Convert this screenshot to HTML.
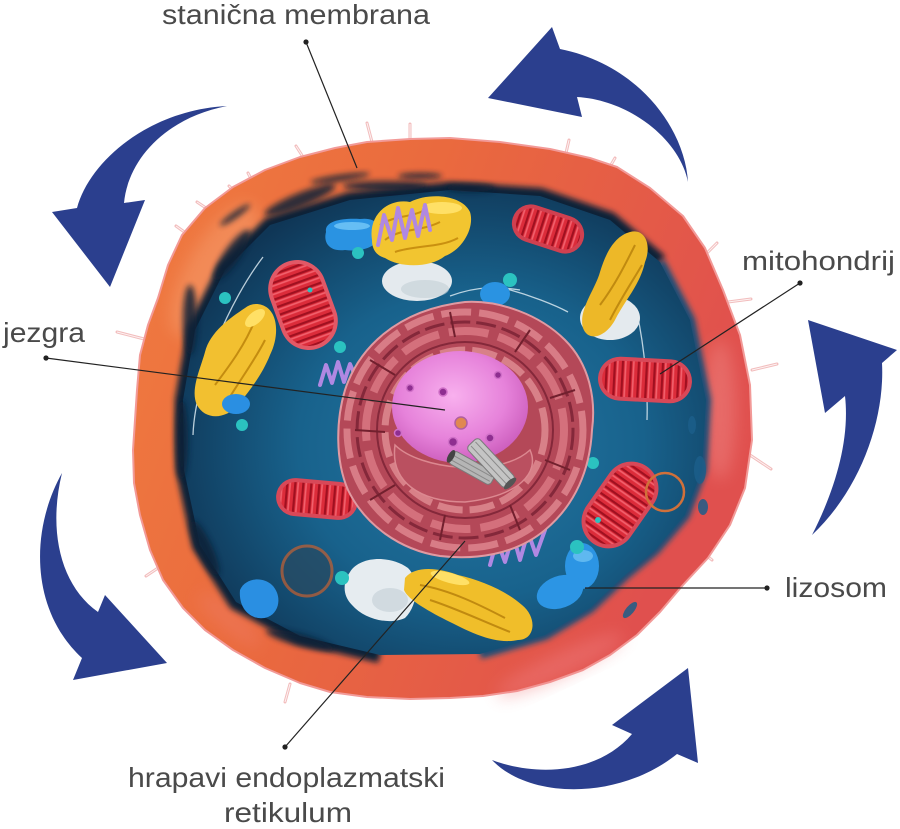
<!DOCTYPE html>
<html><head><meta charset="utf-8"><style>
html,body{margin:0;padding:0;background:#fff;}
svg{display:block;}
text{font-family:"Liberation Sans",sans-serif;fill:#4a4a4a;}
</style></head><body>
<svg width="900" height="829" viewBox="0 0 900 829" xmlns="http://www.w3.org/2000/svg">
<defs>
 <linearGradient id="memG" x1="0" y1="0" x2="1" y2="0.35">
   <stop offset="0" stop-color="#F07C40"/>
   <stop offset="0.45" stop-color="#EA6A3E"/>
   <stop offset="1" stop-color="#E0504E"/>
 </linearGradient>
 <radialGradient id="cytG" cx="0.55" cy="0.55" r="0.6">
   <stop offset="0" stop-color="#2578A4"/>
   <stop offset="0.55" stop-color="#18628C"/>
   <stop offset="1" stop-color="#0F3656"/>
 </radialGradient>
 <radialGradient id="nucG" cx="0.45" cy="0.4" r="0.65">
   <stop offset="0" stop-color="#F8B0EE"/>
   <stop offset="0.6" stop-color="#E682DA"/>
   <stop offset="1" stop-color="#C858B8"/>
 </radialGradient>
 <pattern id="sH" width="10" height="8" patternUnits="userSpaceOnUse"><rect width="10" height="8" fill="#DC2C3A"/><rect y="0" width="10" height="2.2" fill="#A01020"/><rect y="3.2" width="10" height="1.6" fill="#F2626E"/></pattern>
 <pattern id="sV" width="8" height="10" patternUnits="userSpaceOnUse"><rect width="8" height="10" fill="#DC2C3A"/><rect x="0" width="2.2" height="10" fill="#A01020"/><rect x="3.2" width="1.6" height="10" fill="#F2626E"/></pattern>
 <filter id="b3" x="-50%" y="-50%" width="200%" height="200%"><feGaussianBlur stdDeviation="3"/></filter>
 <filter id="b8" x="-50%" y="-50%" width="200%" height="200%"><feGaussianBlur stdDeviation="8"/></filter>
</defs>

<!-- arrows -->
<g fill="#2B3F8E">
 <path d="M227,106 C150,110 90,160 77,208 L52,212 L110,287 L145,200 L124,203 C128,160 165,118 227,106 Z"/>
 <path d="M552,27 L560,49 C640,65 685,130 688,182 C680,140 630,100 577,97 L582,117 L488,98 Z"/>
 <path d="M812,535 C835,490 850,440 845,396 L825,413 L808,320 L897,350 L882,363 C885,420 860,490 812,535 Z"/>
 <path d="M62,473 C30,530 30,610 82,658 L73,680 L167,663 L105,595 L98,612 C60,585 48,530 62,473 Z"/>
 <path d="M492,760 C540,778 600,772 632,734 L612,725 L688,668 L698,763 L677,754 C620,800 530,800 492,760 Z"/>
</g>

<!-- microvilli -->
<g stroke="#F2BDBD" stroke-width="3" stroke-linecap="round" fill="none">
 <path d="M190,236 L176,226 M212,212 L197,202 M240,196 L229,186 M256,188 L248,173 M305,160 L296,146 M372,142 L367,123 M410,140 L410,124 M566,153 L569,140 M608,170 L615,158 M705,255 L717,243 M728,302 L751,299 M752,370 L777,364 M750,455 L771,469 M700,550 L712,560 M158,568 L146,576 M290,684 L285,702 M148,340 L117,332"/>
</g>
<g stroke="#fff" stroke-width="1" fill="none" opacity="0.8">
 <path d="M190,236 L176,226 M212,212 L197,202 M240,196 L229,186 M256,188 L248,173 M305,160 L296,146 M372,142 L367,123 M410,140 L410,124 M566,153 L569,140 M608,170 L615,158 M705,255 L717,243 M728,302 L751,299 M752,370 L777,364 M750,455 L771,469 M700,550 L712,560 M158,568 L146,576 M290,684 L285,702 M148,340 L117,332"/>
</g>

<!-- membrane -->
<path d="M450,138 L500,142 L550,149 L590,158 L617,167 L650,188 L683,216 L705,248 L723,290 L740,335 L750,385 L752,440 L745,488 L730,525 L708,558 L683,585 L660,612 L637,635 L610,655 L583,670 L550,682 L517,691 L483,696 L450,698 L410,699 L367,697 L330,692 L300,683 L265,668 L233,650 L205,630 L183,608 L163,580 L150,550 L140,515 L134,483 L133,450 L135,420 L137,390 L140,355 L148,325 L158,298 L168,265 L182,235 L205,208 L233,187 L265,170 L300,157 L335,148 L367,142 L410,139 Z" fill="url(#memG)" stroke="#F29A98" stroke-width="2" stroke-linejoin="round"/>
<!-- membrane highlights -->
<ellipse cx="215" cy="270" rx="28" ry="75" transform="rotate(30 215 270)" fill="#F7A474" opacity="0.45" filter="url(#b8)"/>
<ellipse cx="720" cy="410" rx="16" ry="70" fill="#F08A88" opacity="0.45" filter="url(#b8)"/>
<ellipse cx="560" cy="665" rx="70" ry="12" transform="rotate(-25 560 665)" fill="#F07E80" opacity="0.45" filter="url(#b8)"/>
<ellipse cx="230" cy="620" rx="40" ry="10" transform="rotate(40 230 620)" fill="#F08070" opacity="0.4" filter="url(#b8)"/>

<!-- cytoplasm dark rim (top/left only) -->
<path d="M660,262 L610,220 L540,196 L450,190 L350,200 L270,225 L225,270 L195,330 L183,400 L184,470 L200,545 L236,602 L300,636 L380,655" fill="none" stroke="#0B2238" stroke-width="16" stroke-linejoin="round" filter="url(#b3)"/>
<path d="M660,262 L690,320 L706,400 L702,470 L685,515 L655,550 L625,575 L590,608 L545,635 L480,654" fill="none" stroke="#154E78" stroke-width="10" stroke-linejoin="round" filter="url(#b3)"/>
<path d="M450,190 L540,196 L610,220 L660,262 L690,320 L706,400 L702,470 L685,515 L655,550 L625,575 L590,608 L545,635 L480,654 L380,655 L300,636 L236,602 L200,545 L184,470 L183,400 L195,330 L225,270 L270,225 L350,200 Z" fill="url(#cytG)" stroke-linejoin="round"/>
<!-- dark rim patches -->
<g fill="#0C2238" opacity="0.85" filter="url(#b3)">
 <ellipse cx="300" cy="200" rx="38" ry="7" transform="rotate(-22 300 200)"/>
 <ellipse cx="385" cy="186" rx="42" ry="5"/>
 <ellipse cx="470" cy="188" rx="25" ry="4"/>
 <ellipse cx="232" cy="255" rx="8" ry="30" transform="rotate(35 232 255)"/>
 <ellipse cx="190" cy="320" rx="7" ry="35"/>
 <ellipse cx="182" cy="440" rx="6" ry="40"/>
 <ellipse cx="205" cy="548" rx="7" ry="30" transform="rotate(-25 205 548)"/>
 <ellipse cx="300" cy="640" rx="35" ry="6" transform="rotate(15 300 640)"/>
 <ellipse cx="340" cy="178" rx="30" ry="3" transform="rotate(-8 340 178)"/>
 <ellipse cx="420" cy="176" rx="22" ry="3"/>
 <ellipse cx="235" cy="215" rx="18" ry="3" transform="rotate(-35 235 215)"/>
</g>
<g fill="#1C5E8A" opacity="0.85">
 <ellipse cx="700" cy="470" rx="6" ry="14"/>
 <ellipse cx="703" cy="507" rx="5" ry="8"/>
 <ellipse cx="692" cy="425" rx="4" ry="9"/>
 <ellipse cx="630" cy="610" rx="4" ry="10" transform="rotate(40 630 610)"/>
</g>

<!-- thin white microtubules -->
<g stroke="#D8E8F0" stroke-width="1.3" fill="none" opacity="0.85">
 <path d="M263,257 C230,300 195,380 193,435"/>
 <path d="M503,288 C530,295 555,305 568,312"/>
 <path d="M637,313 C645,350 648,390 647,420"/>
 <path d="M450,296 C480,285 500,287 520,290"/>
</g>

<!-- white vesicles -->
<ellipse cx="417" cy="281" rx="35" ry="20" fill="#E4EAEE"/>
<ellipse cx="425" cy="289" rx="24" ry="9" fill="#C3CED6" opacity="0.6"/>
<ellipse cx="610" cy="318" rx="30" ry="22" fill="#E4EAEE"/>
<path d="M350,572 C360,556 390,555 408,568 C420,580 418,605 405,618 C390,625 365,620 352,605 C342,595 343,582 350,572 Z" fill="#E6ECF0"/>
<ellipse cx="390" cy="600" rx="18" ry="12" fill="#C3CED6" opacity="0.6"/>

<!-- lysosomes (blue) -->
<path d="M326,232 C324,220 345,218 360,219 C375,217 382,225 379,236 C377,248 360,252 345,250 C330,252 323,243 326,232 Z" fill="#2A93E2"/>
<ellipse cx="352" cy="226" rx="18" ry="4" fill="#66BEF4"/>
<ellipse cx="495" cy="294" rx="15" ry="12" fill="#2A93E2"/>
<path d="M240,590 C245,578 262,576 272,585 C282,595 280,612 268,617 C255,622 238,612 240,590 Z" fill="#2A8FE2"/>
<ellipse cx="582" cy="566" rx="17" ry="23" fill="#2C95E4"/>
<ellipse cx="560" cy="592" rx="24" ry="16" transform="rotate(-20 560 592)" fill="#2C95E4"/>
<ellipse cx="583" cy="556" rx="10" ry="6" fill="#5FB8F0"/>

<!-- mitochondria -->
<g transform="translate(303,305) rotate(-20)"><rect x="-29" y="-46" width="58" height="92" rx="29" fill="#E25866"/><rect x="-25" y="-42" width="50" height="84" rx="25" fill="url(#sH)"/></g>
<g transform="translate(548,229) rotate(18)"><rect x="-37" y="-19" width="74" height="38" rx="19" fill="#D04050"/><rect x="-33" y="-15" width="66" height="30" rx="15" fill="url(#sV)"/></g>
<g transform="translate(645,380) rotate(3)"><rect x="-47" y="-22" width="94" height="44" rx="22" fill="#D84858"/><rect x="-43" y="-18" width="86" height="36" rx="18" fill="url(#sV)"/></g>
<g transform="translate(317,499) rotate(5)"><rect x="-41" y="-19" width="82" height="38" rx="19" fill="#D84858"/><rect x="-37" y="-15" width="74" height="30" rx="15" fill="url(#sV)"/></g>
<g transform="translate(620,505) rotate(35)"><rect x="-27" y="-47" width="54" height="94" rx="27" fill="#D84858"/><rect x="-23" y="-43" width="46" height="86" rx="23" fill="url(#sH)"/></g>

<!-- ring vesicles -->
<circle cx="307" cy="571" r="25" fill="#2A4A62" opacity="0.7" stroke="#C8602F" stroke-width="3"/>
<circle cx="665" cy="492" r="19" fill="none" stroke="#D0703A" stroke-width="2.5"/>

<!-- golgi -->
<g>
 <path d="M372,240 C368,215 388,198 410,202 C430,192 462,195 470,212 C475,228 462,250 445,256 C430,268 400,268 385,258 C375,255 372,248 372,240 Z" fill="#F2C530"/>
 <path d="M385,240 C400,228 420,232 440,222 M395,252 C415,245 440,248 458,238 M380,225 C395,215 410,218 425,210" stroke="#C99010" stroke-width="2" fill="none"/>
 <ellipse cx="442" cy="208" rx="20" ry="6" fill="#FFE066"/>
</g>
<g>
 <path d="M262,305 C278,310 280,335 270,355 C262,375 250,390 238,405 C225,420 205,420 197,405 C190,390 200,370 205,352 C210,332 230,318 245,308 C250,304 256,303 262,305 Z" fill="#F2C030"/>
 <path d="M255,320 C245,345 230,365 215,385 M265,340 C255,360 240,380 228,400" stroke="#C48C10" stroke-width="2" fill="none"/>
 <ellipse cx="255" cy="318" rx="12" ry="6" fill="#FFE066" transform="rotate(-40 255 318)"/>
</g>
<ellipse cx="236" cy="404" rx="14" ry="10" fill="#2A8FE2"/>
<g>
 <path d="M630,232 C645,228 652,245 645,262 C640,285 625,300 615,320 C605,338 588,342 583,328 C578,310 595,290 600,272 C606,252 615,236 630,232 Z" fill="#EDB828"/>
 <path d="M635,245 C625,265 615,285 600,305 M642,265 C630,285 620,300 610,320" stroke="#C08A10" stroke-width="2" fill="none"/>
</g>
<g>
 <path d="M405,578 C415,565 440,568 458,575 C480,580 505,590 522,605 C538,618 535,640 518,640 C495,645 470,632 450,622 C430,612 408,600 404,590 Z" fill="#F0BE2A"/>
 <path d="M420,585 C450,590 480,605 505,618 M430,600 C455,608 480,620 510,632" stroke="#C08A10" stroke-width="2" fill="none"/>
 <ellipse cx="450" cy="578" rx="20" ry="5" fill="#FFE066" transform="rotate(15 450 578)"/>
</g>

<!-- DNA squiggles -->
<g stroke="#B088E2" stroke-width="4" fill="none" stroke-linejoin="round" stroke-linecap="round">
 <path d="M378,245 L384,215 L392,240 L398,208 L405,238 L412,210 L418,236 L425,205 L430,230"/>
 <path d="M320,385 L326,365 L332,383 L338,362 L344,382 L350,364 L356,378"/>
 <path d="M490,565 L497,540 L505,562 L513,535 L520,560 L528,532 L536,555 L545,530"/>
</g>

<!-- cyan dots -->
<g fill="#2BC2C0">
 <circle cx="225" cy="298" r="6"/><circle cx="340" cy="347" r="6"/><circle cx="242" cy="425" r="6"/>
 <circle cx="358" cy="253" r="6"/><circle cx="510" cy="280" r="7"/><circle cx="502" cy="343" r="7"/>
 <circle cx="593" cy="463" r="6"/><circle cx="342" cy="578" r="7"/><circle cx="577" cy="547" r="7"/>
 <circle cx="480" cy="323" r="3"/><circle cx="598" cy="520" r="3"/><circle cx="310" cy="290" r="2.5"/>
</g>

<!-- ER -->
<path d="M465,302 C500,300 540,315 565,340 C590,365 596,400 592,430 C590,470 575,505 545,530 C515,555 475,560 440,556 C400,550 365,525 348,490 C335,460 336,420 345,390 C358,350 395,310 465,302 Z" fill="#B44858" stroke="#E09AA2" stroke-width="2"/>
<g fill="none">
 <circle cx="465" cy="430" r="118" stroke="#D87C86" stroke-width="7" stroke-dasharray="30 8"/>
 <circle cx="465" cy="430" r="108" stroke="#84283A" stroke-width="3" stroke-dasharray="20 6"/>
 <circle cx="465" cy="430" r="99" stroke="#D4707C" stroke-width="8" stroke-dasharray="40 10"/>
 <circle cx="465" cy="430" r="88" stroke="#84283A" stroke-width="2"/>
 <circle cx="465" cy="430" r="80" stroke="#D88088" stroke-width="7" stroke-dasharray="25 7"/>
</g>
<g stroke="#72202E" stroke-width="2" fill="none">
 <path d="M370,360 L395,375 M355,430 L385,432 M370,500 L395,485 M440,540 L445,515 M520,530 L510,505 M570,470 L545,460 M575,390 L550,398 M530,330 L515,352 M450,312 L455,337"/>
</g>

<!-- nucleus -->
<ellipse cx="460" cy="407" rx="68" ry="56" fill="url(#nucG)"/>
<g fill="#8E2E90" stroke="#D070C8" stroke-width="1.5">
 <circle cx="443" cy="392" r="4"/><circle cx="410" cy="388" r="3.5"/><circle cx="498" cy="375" r="3.5"/>
 <circle cx="490" cy="438" r="4"/><circle cx="453" cy="442" r="4.5"/><circle cx="398" cy="433" r="3.5"/>
</g>
<circle cx="461" cy="423" r="6" fill="#E08850" stroke="#B060A0" stroke-width="1.5"/>
<path d="M395,445 C420,470 500,478 530,450 C540,472 520,496 465,502 C420,502 390,482 395,445 Z" fill="#BA5060" stroke="#DC8890" stroke-width="1.5"/>

<!-- centriole -->
<g transform="translate(472,468) rotate(29)"><rect x="-24" y="-7" width="48" height="14" rx="4" fill="#B5B5B5" stroke="#7A7A7A"/><line x1="-22" y1="-2" x2="22" y2="-2" stroke="#8A8A8A"/><line x1="-22" y1="3" x2="22" y2="3" stroke="#8A8A8A"/><ellipse cx="-24" cy="0" rx="3" ry="7" fill="#444"/></g>
<g transform="translate(491,463) rotate(47)"><rect x="-28" y="-8" width="56" height="16" rx="4" fill="#C4C4C4" stroke="#7A7A7A"/><line x1="-26" y1="-3" x2="26" y2="-3" stroke="#8A8A8A"/><line x1="-26" y1="3" x2="26" y2="3" stroke="#8A8A8A"/><ellipse cx="28" cy="0" rx="3" ry="8" fill="#555"/></g>

<!-- leader lines -->
<g stroke="#222" stroke-width="1.2">
 <line x1="306" y1="42" x2="357" y2="168"/>
 <line x1="800" y1="283" x2="660" y2="374"/>
 <line x1="46" y1="358" x2="445" y2="410"/>
 <line x1="767" y1="588" x2="585" y2="588"/>
 <line x1="285" y1="747" x2="465" y2="541"/>
</g>
<g fill="#222">
 <circle cx="306" cy="42" r="2.6"/><circle cx="800" cy="283" r="2.6"/><circle cx="46" cy="358" r="2.6"/>
 <circle cx="767" cy="588" r="2.6"/><circle cx="285" cy="747" r="2.6"/>
</g>

<!-- labels -->
<text x="162" y="24" font-size="28" textLength="268" lengthAdjust="spacingAndGlyphs">stanična membrana</text>
<text x="742" y="270" font-size="27" textLength="153" lengthAdjust="spacingAndGlyphs">mitohondrij</text>
<text x="3" y="342" font-size="28" textLength="82" lengthAdjust="spacingAndGlyphs">jezgra</text>
<text x="785" y="597" font-size="28" textLength="102" lengthAdjust="spacingAndGlyphs">lizosom</text>
<text x="128" y="787" font-size="28" textLength="317" lengthAdjust="spacingAndGlyphs">hrapavi endoplazmatski</text>
<text x="224" y="822" font-size="28" textLength="128" lengthAdjust="spacingAndGlyphs">retikulum</text>
</svg>
</body></html>
